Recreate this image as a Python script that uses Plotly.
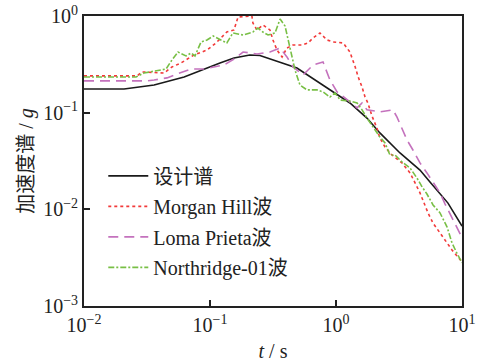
import plotly.graph_objects as go

# Design spectrum
design_T = [0.01, 0.0208, 0.036, 0.0623, 0.12, 0.155, 0.207, 0.249, 0.49, 0.746,
            1.29, 1.76, 2.23, 3.22, 4.64, 5.57, 7.74, 10.0]
design_Sa = [0.176, 0.176, 0.193, 0.234, 0.327, 0.368, 0.395, 0.39, 0.29, 0.203,
             0.126, 0.088, 0.0617, 0.0383, 0.0255, 0.0192, 0.0116, 0.0067]

# Morgan Hill
mh_T = [0.01, 0.0264, 0.0288, 0.0432, 0.0499, 0.0589, 0.0746, 0.0947, 0.1116, 0.122,
        0.136, 0.155, 0.167, 0.215, 0.219, 0.236, 0.263, 0.299, 0.316, 0.340,
        0.373, 0.408, 0.456, 0.537, 0.6, 0.657, 0.746, 0.849, 0.946, 1.14,
        1.29, 1.42, 1.50, 1.61, 1.70, 1.79, 1.93, 2.11, 2.23, 2.45,
        2.78, 3.34, 3.87, 4.24, 4.64, 5.37, 5.89, 6.69, 7.60, 8.33, 10.0]
mh_Sa = [0.24, 0.24, 0.264, 0.257, 0.297, 0.327, 0.395, 0.445, 0.526, 0.592,
         0.683, 0.717, 0.977, 1.0, 0.847, 0.717, 0.807, 0.717, 0.565, 0.445,
         0.377, 0.467, 0.501, 0.501, 0.526, 0.592, 0.667, 0.565, 0.539, 0.526,
         0.424, 0.297, 0.234, 0.184, 0.145, 0.126, 0.0924, 0.0695, 0.0547, 0.0442,
         0.0365, 0.0302, 0.0238, 0.0188, 0.0148, 0.0092, 0.0072, 0.0057, 0.0045, 0.0038, 0.00286]

# Loma Prieta
lp_T = [0.01, 0.0316, 0.036, 0.0456, 0.0547, 0.0707, 0.0896, 0.108, 0.129, 0.155,
        0.183, 0.236, 0.299, 0.36, 0.408, 0.456, 0.547, 0.657, 0.789, 0.895,
        1.02, 1.24, 1.47, 1.61, 1.76, 2.23, 2.83, 3.05, 3.34, 3.66,
        4.08, 4.64, 5.27, 5.89, 6.69, 7.33, 8.33, 9.29, 10.0]
lp_Sa = [0.213, 0.213, 0.218, 0.229, 0.251, 0.283, 0.283, 0.297, 0.311, 0.359,
         0.424, 0.405, 0.424, 0.467, 0.377, 0.297, 0.245, 0.311, 0.334, 0.218,
         0.164, 0.135, 0.112, 0.126, 0.107, 0.102, 0.107, 0.090, 0.0695, 0.0522,
         0.0411, 0.0302, 0.0238, 0.0188, 0.0148, 0.0114, 0.0083, 0.0061, 0.0051]

# Northridge-01
nr_T = [0.01, 0.0259, 0.0299, 0.0408, 0.0448, 0.0499, 0.0557, 0.0645, 0.0707, 0.076,
        0.0849, 0.0947, 0.106, 0.122, 0.136, 0.152, 0.183, 0.219, 0.240, 0.263,
        0.289, 0.328, 0.36, 0.394, 0.431, 0.473, 0.518, 0.589, 0.707, 0.789,
        0.895, 0.982, 1.08, 1.29, 1.47, 1.61, 1.76, 1.97, 2.23, 2.45,
        2.68, 2.94, 3.34, 3.87, 4.39, 4.82, 5.27, 5.89, 6.69, 7.60, 8.33, 9.12, 10.0]
nr_Sa = [0.234, 0.234, 0.257, 0.276, 0.283, 0.351, 0.424, 0.386, 0.414, 0.386,
         0.539, 0.565, 0.621, 0.565, 0.526, 0.667, 0.636, 0.683, 0.751, 0.683,
         0.636, 0.667, 0.93, 0.788, 0.478, 0.276, 0.193, 0.172, 0.172, 0.164,
         0.145, 0.16, 0.135, 0.132, 0.126, 0.107, 0.088, 0.0711, 0.0561, 0.0486,
         0.0365, 0.0365, 0.0309, 0.0268, 0.0211, 0.0171, 0.0144, 0.0111, 0.0092, 0.0066, 0.0045, 0.0035, 0.0028]

names = ["设计谱", "Morgan Hill波", "Loma Prieta波", "Northridge-01波"]
x_tickvals = [0.01, 0.1, 1, 10]
x_ticktext = ["10<sup>−2</sup>", "10<sup>−1</sup>", "10<sup>0</sup>", "10<sup>1</sup>"]
y_tickvals = [0.001, 0.01, 0.1, 1]
y_ticktext = ["10<sup>−3</sup>", "10<sup>−2</sup>", "10<sup>−1</sup>", "10<sup>0</sup>"]

FONT = "'Liberation Serif', 'Noto Sans CJK SC', serif"
TXT = "#222"

fig = go.Figure()
fig.add_trace(go.Scatter(x=design_T, y=design_Sa, mode="lines", name=names[0], legendgroup="a",
                         line=dict(color="#1a1a1a", width=1.6)))
fig.add_trace(go.Scatter(x=mh_T, y=mh_Sa, mode="lines", name=names[1], legendgroup="b",
                         line=dict(color="#f23a3a", width=1.6, dash="dot")))
fig.add_trace(go.Scatter(x=lp_T, y=lp_Sa, mode="lines", name=names[2], legendgroup="c",
                         line=dict(color="#c472bd", width=1.6, dash="10px,6px")))
fig.add_trace(go.Scatter(x=nr_T, y=nr_Sa, mode="lines", name=names[3], legendgroup="d",
                         line=dict(color="#78bf45", width=1.6, dash="6px,2px,2px,2px")))

axis_common = dict(type="log", showgrid=False, zeroline=False, showline=True, mirror=True,
                   linecolor=TXT, linewidth=1.8, ticks="inside", ticklen=6, tickwidth=1.5,
                   tickcolor=TXT, automargin=False, ticklabeloverflow="allow",
                   tickfont=dict(family=FONT, size=20, color=TXT))

fig.update_xaxes(range=[-2, 1], tickvals=x_tickvals, ticktext=x_ticktext,
                 title=dict(text="<i>t</i> / s", font=dict(family=FONT, size=20, color=TXT), standoff=10),
                 **axis_common)
fig.update_yaxes(range=[-3, 0], tickvals=y_tickvals, ticktext=y_ticktext,
                 title=dict(text="加速度谱 / <i>g</i>", font=dict(family=FONT, size=20, color=TXT), standoff=4),
                 **axis_common)

fig.update_layout(
    width=485, height=362,
    margin=dict(l=84, r=23, t=16, b=56),
    paper_bgcolor="white", plot_bgcolor="white",
    font=dict(family=FONT, size=20, color=TXT),
    legend=dict(x=0.051, y=0.516, xanchor="left", yanchor="top", bgcolor="rgba(0,0,0,0)",
                font=dict(family=FONT, size=20, color=TXT), traceorder="grouped",
                tracegroupgap=1.5, itemwidth=40),
)

fig.write_html("out.html", config={"displayModeBar": False},
               post_script="document.body.style.margin='0';document.body.style.overflow='hidden';")
